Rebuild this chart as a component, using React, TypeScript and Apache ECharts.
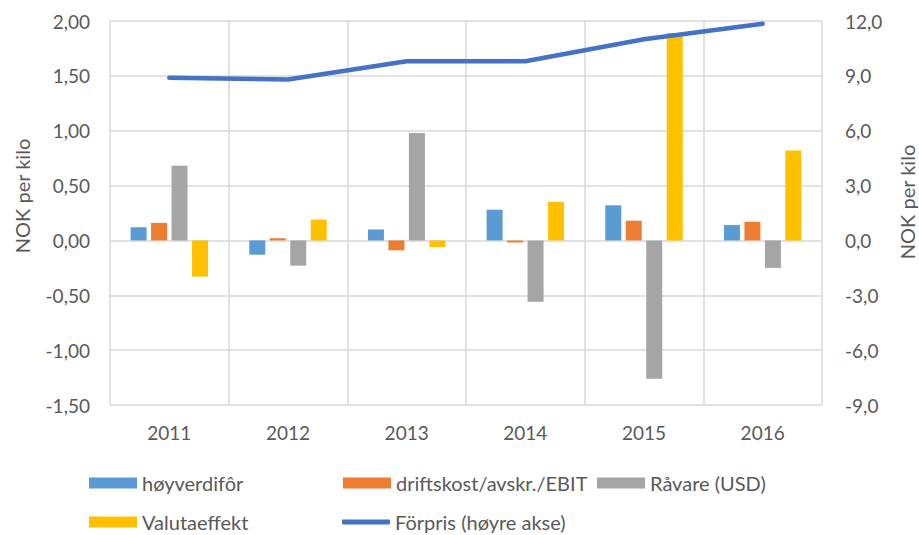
import React, { useEffect, useRef } from "react";
import * as echarts from "echarts";

const years = ["2011", "2012", "2013", "2014", "2015", "2016"];
const hoyverdifor = [0.12, -0.13, 0.1, 0.28, 0.32, 0.14];
const driftskost = [0.16, 0.02, -0.09, -0.02, 0.18, 0.17];
const ravare = [0.68, -0.23, 0.98, -0.56, -1.26, -0.25];
const valutaeffekt = [-0.33, 0.19, -0.06, 0.35, 1.89, 0.82];
const forpris = [8.9, 8.8, 9.8, 9.8, 11.0, 11.85];

const seriesNames = [
  "høyverdifôr",
  "driftskost/avskr./EBIT",
  "Råvare (USD)",
  "Valutaeffekt",
  "Förpris (høyre akse)",
];
const axisTitle = "NOK per kilo";
const colors = ["#5B9BD5", "#ED7D31", "#A5A5A5", "#FFC000", "#4472C4"];

const FONT = "Lato, 'Noto Sans', sans-serif";
const TXT = "#595959";

export default function App() {
  const ref = useRef<HTMLDivElement>(null);
  useEffect(() => {
    if (!ref.current) return;
    const chart = echarts.init(ref.current, undefined, { renderer: "svg" });
    const barData = [hoyverdifor, driftskost, ravare, valutaeffekt];
    const legendPos = [
      { left: 89, top: 472 },
      { left: 343, top: 472 },
      { left: 597, top: 472 },
      { left: 89, top: 511 },
      { left: 342, top: 511 },
    ];
    const legends = seriesNames.map((n, i) => ({
      data: [n],
      left: legendPos[i].left,
      top: legendPos[i].top,
      itemWidth: 48,
      itemHeight: i === 4 ? 5 : 11,
      itemGap: 4,
      padding: 0,
      icon: i === 4 ? "roundRect" : "rect",
      textStyle: { color: TXT, fontSize: 20, fontFamily: FONT, lineHeight: 22 },
      selectedMode: false,
    }));
    chart.setOption({
      animation: false,
      textStyle: { fontFamily: FONT },
      color: colors,
      grid: { left: 110, right: 97, top: 21, bottom: 130, containLabel: false },
      legend: legends,
      graphic: [
        {
          type: "text",
          x: 22,
          y: 196,
          rotation: Math.PI / 2,
          style: {
            text: axisTitle,
            fill: TXT,
            fontSize: 20,
            fontFamily: FONT,
            align: "center",
            verticalAlign: "middle",
          },
        },
        {
          type: "text",
          x: 907,
          y: 202,
          rotation: Math.PI / 2,
          style: {
            text: axisTitle,
            fill: TXT,
            fontSize: 20,
            fontFamily: FONT,
            align: "center",
            verticalAlign: "middle",
          },
        },
      ],
      xAxis: {
        type: "category",
        data: years,
        boundaryGap: true,
        axisLine: { show: false },
        axisTick: { show: false },
        axisLabel: { color: TXT, fontSize: 19, fontFamily: FONT, margin: 18 },
        splitLine: { show: true, lineStyle: { color: "#D9D9D9", width: 1.5 } },
      },
      yAxis: [
        {
          type: "value",
          min: -1.5,
          max: 2.0,
          interval: 0.5,
          axisLabel: {
            color: TXT,
            fontSize: 19,
            fontFamily: FONT,
            margin: 20,
            formatter: (v: number) => v.toFixed(2).replace(".", ","),
          },
          axisLine: { show: false },
          axisTick: { show: false },
          splitLine: { lineStyle: { color: "#D9D9D9", width: 1.5 } },
        },
        {
          type: "value",
          min: -9,
          max: 12,
          interval: 3,
          axisLabel: {
            color: TXT,
            fontSize: 19,
            fontFamily: FONT,
            margin: 23,
            formatter: (v: number) => v.toFixed(1).replace(".", ","),
          },
          axisLine: { show: false },
          axisTick: { show: false },
          splitLine: { show: false },
        },
      ],
      series: [
        ...barData.map((d, i) => ({
          name: seriesNames[i],
          type: "bar",
          data: d,
          barWidth: 16,
          barGap: "28%",
          itemStyle: { color: colors[i] },
        })),
        {
          name: seriesNames[4],
          type: "line",
          yAxisIndex: 1,
          data: forpris,
          symbol: "none",
          lineStyle: { color: colors[4], width: 4.5, cap: "round" },
          itemStyle: { color: colors[4] },
        },
      ],
    });
    return () => chart.dispose();
  }, []);
  return <div ref={ref} style={{ width: 919, height: 535, position: "absolute", left: 0, top: 0 }} />;
}
